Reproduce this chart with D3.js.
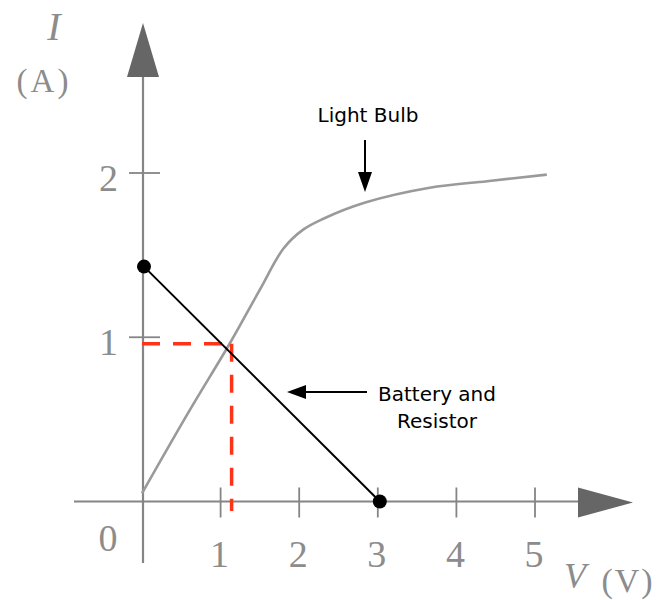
<!DOCTYPE html>
<html>
<head>
<meta charset="utf-8">
<script src="https://cdn.jsdelivr.net/npm/d3@7"></script>
<style>
  html, body { margin: 0; padding: 0; background: #fff; }
  svg { display: block; }
</style>
</head>
<body>
<svg id="chart" width="657" height="600"></svg>
<script>
// I–V characteristics: light bulb vs. battery + resistor load line
const xTicks = [1, 2, 3, 4, 5];
const yTicks = [1, 2];

// Light bulb curve (V in volts, I in amps)
const bulbV = [0, 0.6, 1.12, 1.5, 1.8, 2.05, 2.3, 2.84, 3.66, 4.39, 5.15];
const bulbI = [0.05, 0.55, 0.965, 1.29, 1.54, 1.655, 1.72, 1.82, 1.91, 1.95, 1.99];

// Battery and resistor load line end points
const loadV = [0, 3];
const loadI = [1.43, 0];

// Operating point
const opV = 1.14;
const opI = 0.96;

const svg = d3.select("#chart");
const x = d3.scaleLinear().domain([0, 5]).range([142, 535]);
const y = d3.scaleLinear().domain([0, 2]).range([501.5, 173]);

const axisGray = "#858585";
const textGray = "#8c8c8c";
const x0 = x(0), y0 = y(0);

// axes
svg.append("line").attr("x1", 74).attr("x2", 580).attr("y1", y0).attr("y2", y0)
  .attr("stroke", axisGray).attr("stroke-width", 2.2);
svg.append("line").attr("x1", x0 + 1).attr("x2", x0 + 1).attr("y1", 563).attr("y2", 75)
  .attr("stroke", axisGray).attr("stroke-width", 2.2);
// arrow heads
svg.append("path").attr("d", `M${x0 + 1},23 L${x0 + 17},77 L${x0 - 15},77 Z`).attr("fill", "#666");
svg.append("path").attr("d", `M633,${y0 + 1} L578,${y0 - 14} L578,${y0 + 16} Z`).attr("fill", "#666");

// ticks
svg.selectAll(".xt").data(xTicks).join("line")
  .attr("x1", d => x(d)).attr("x2", d => x(d)).attr("y1", y0 - 14).attr("y2", y0 + 16)
  .attr("stroke", axisGray).attr("stroke-width", 1.8);
svg.selectAll(".yt").data(yTicks).join("line")
  .attr("x1", x0 - 13).attr("x2", x0 + 18).attr("y1", d => y(d)).attr("y2", d => y(d))
  .attr("stroke", axisGray).attr("stroke-width", 1.8);

const serif = "'Liberation Serif', 'DejaVu Serif', serif";
svg.selectAll(".xl").data(xTicks).join("text")
  .attr("x", d => x(d) - 1).attr("y", 567).attr("text-anchor", "middle")
  .attr("font-family", serif).attr("font-size", 38).attr("fill", textGray)
  .text(d => d);
svg.selectAll(".yl").data(yTicks).join("text")
  .attr("x", 118).attr("y", d => y(d) + 18).attr("text-anchor", "end")
  .attr("font-family", serif).attr("font-size", 38).attr("fill", textGray)
  .text(d => d);
svg.append("text").attr("x", 108).attr("y", 551).attr("text-anchor", "middle")
  .attr("font-family", serif).attr("font-size", 38).attr("fill", textGray).text("0");

// axis titles
svg.append("text").attr("x", 54).attr("y", 40).attr("text-anchor", "middle")
  .attr("font-family", serif).attr("font-style", "italic").attr("font-size", 40)
  .attr("fill", textGray).text("I");
svg.append("text").attr("x", 44).attr("y", 92).attr("text-anchor", "middle")
  .attr("font-family", serif).attr("font-size", 33).attr("letter-spacing", 3)
  .attr("fill", textGray).text("(A)");
svg.append("text").attr("x", 575).attr("y", 588).attr("text-anchor", "middle")
  .attr("font-family", serif).attr("font-style", "italic").attr("font-size", 36)
  .attr("fill", textGray).text("V");
svg.append("text").attr("x", 628).attr("y", 592).attr("text-anchor", "middle")
  .attr("font-family", serif).attr("font-size", 34).attr("letter-spacing", 2)
  .attr("fill", textGray).text("(V)");

// light bulb curve
const bulb = bulbV.map((v, i) => [v, bulbI[i]]);
const line = d3.line().x(d => x(d[0])).y(d => y(d[1])).curve(d3.curveCatmullRom.alpha(0.5));
svg.append("path").datum(bulb).attr("d", line)
  .attr("fill", "none").attr("stroke", "#9a9a9a").attr("stroke-width", 2.6);

// operating point guides
svg.append("line").attr("x1", x(0)).attr("x2", x(opV)).attr("y1", y(opI)).attr("y2", y(opI))
  .attr("stroke", "#ff3318").attr("stroke-width", 3.5).attr("stroke-dasharray", "18,13");
svg.append("line").attr("x1", x(opV)).attr("x2", x(opV)).attr("y1", y(opI)).attr("y2", 511)
  .attr("stroke", "#ff3318").attr("stroke-width", 3.5).attr("stroke-dasharray", "18,13");

// load line
const load = loadV.map((v, i) => [v, loadI[i]]);
svg.append("path").datum(load).attr("d", d3.line().x(d => x(d[0]) + 2).y(d => y(d[1])))
  .attr("fill", "none").attr("stroke", "#000").attr("stroke-width", 2);
svg.selectAll(".dot").data(load).join("circle")
  .attr("cx", d => x(d[0]) + 2).attr("cy", d => y(d[1]))
  .attr("r", 7).attr("fill", "#000");

// annotations
const sans = "'DejaVu Sans', Verdana, sans-serif";
svg.append("text").attr("x", 368).attr("y", 122).attr("text-anchor", "middle")
  .attr("font-family", sans).attr("font-size", 20).attr("fill", "#000").text("Light Bulb");
svg.append("line").attr("x1", 365).attr("x2", 365).attr("y1", 140).attr("y2", 175)
  .attr("stroke", "#000").attr("stroke-width", 2);
svg.append("path").attr("d", "M365,192 L358,172 L372,172 Z").attr("fill", "#000");

svg.append("text").attr("x", 437).attr("y", 401).attr("text-anchor", "middle")
  .attr("font-family", sans).attr("font-size", 20).attr("fill", "#000").text("Battery and");
svg.append("text").attr("x", 437).attr("y", 428).attr("text-anchor", "middle")
  .attr("font-family", sans).attr("font-size", 20).attr("fill", "#000").text("Resistor");
svg.append("line").attr("x1", 367).attr("x2", 303).attr("y1", 392).attr("y2", 392)
  .attr("stroke", "#000").attr("stroke-width", 2);
svg.append("path").attr("d", "M287,392 L306,385 L306,399 Z").attr("fill", "#000");
</script>
</body>
</html>
